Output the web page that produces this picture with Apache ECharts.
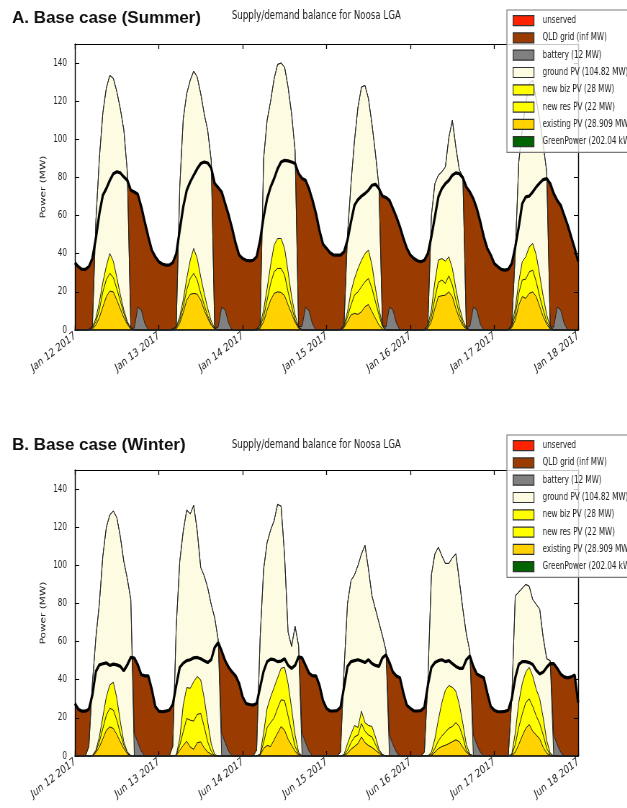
<!DOCTYPE html>
<html>
<head>
<meta charset="utf-8">
<script src="https://cdn.jsdelivr.net/npm/echarts@6/dist/echarts.min.js"></script>
<style>
  html, body { margin: 0; padding: 0; background: #fff; overflow: hidden; }
  /* the source figure is squeezed horizontally; draw wide and squeeze the same way */
  #chart { width: 871px; height: 808px; transform: scaleX(0.72); transform-origin: 0 0; }
</style>
</head>
<body>
<div id="chart"></div>
<script>
// hourly values, Jan 12 00:00 .. Jan 18 00:00 (summer) and Jun 12 .. Jun 18 (winter)
const summerTicks = ['Jan 12 2017', 'Jan 13 2017', 'Jan 14 2017', 'Jan 15 2017', 'Jan 16 2017', 'Jan 17 2017', 'Jan 18 2017'];
const winterTicks = ['Jun 12 2017', 'Jun 13 2017', 'Jun 14 2017', 'Jun 15 2017', 'Jun 16 2017', 'Jun 17 2017', 'Jun 18 2017'];

// ---- summer (MW)
const demandA = [
  35.3, 33.2, 31.8, 31.8, 33.2, 37.5, 48, 61, 70.7, 74.2, 78.5, 82, 83, 82.4, 80.3, 78.5, 73.3, 72.4, 71.2, 64.6, 56.7, 48.9, 41.9, 38.4,
  35.8, 34.6, 34, 34, 35.3, 40, 52.4, 64.6, 73.3, 77.7, 81.2, 84.6, 87.3, 88.1, 87.6, 85, 76.8, 74.7, 72.4, 66.3, 60.2, 53.2, 45.4, 39.3,
  37.5, 36.6, 36.3, 36.6, 38.4, 47.1, 59.3, 68.9, 75, 79.4, 84.6, 88.1, 89, 88.7, 88.1, 87.3, 82, 79.5, 78.5, 74, 68, 61, 52, 45,
  42.8, 40.5, 39.3, 39.3, 39.3, 41, 47.1, 56.7, 65.4, 68.4, 70.2, 71.6, 73.3, 75.9, 76.4, 74.2, 70.2, 69.5, 68, 63.7, 59.3, 54.1, 48, 42.8,
  39.3, 37.5, 36.3, 35.8, 36.6, 40.1, 48.9, 59.3, 69.8, 74.2, 76.8, 78.5, 81.2, 82.4, 82, 79.9, 75, 72.4, 68.9, 63.7, 56.7, 48.9, 42.8, 39.3,
  34.9, 33.2, 31.8, 31.4, 31.8, 34.9, 43.6, 54.1, 66.3, 69.8, 70.2, 72.4, 75, 77.1, 78.9, 79.4, 76.8, 71.6, 68, 65.4, 60.2, 55, 48.9, 42.8,
  36
];
const existingA = [
  0, 0, 0, 0, 0, 0.5, 2.6, 6.5, 12.2, 17.5, 20.4, 20, 15.7, 11, 6.5, 3, 0.5, 0, 0, 0, 0, 0, 0, 0,
  0, 0, 0, 0, 0, 0.5, 3.5, 9.2, 15.7, 18.7, 19.2, 18.8, 15.7, 10.5, 6.1, 2.6, 0.5, 0, 0, 0, 0, 0, 0, 0,
  0, 0, 0, 0, 0, 0.9, 4.4, 10.5, 15.7, 19.2, 20, 19.7, 18, 13.1, 8.7, 4, 0.9, 0, 0, 0, 0, 0, 0, 0,
  0, 0, 0, 0, 0, 1.2, 4.4, 7.9, 8.7, 8.2, 9.6, 12.2, 13.4, 9.6, 6.1, 2.6, 0.5, 0, 0, 0, 0, 0, 0, 0,
  0, 0, 0, 0, 0, 0.9, 4.4, 11.3, 17.5, 18, 18.3, 20, 17.5, 11.3, 6.1, 2.3, 0.5, 0, 0, 0, 0, 0, 0, 0,
  0, 0, 0, 0, 0, 1.2, 5.2, 13.1, 17.5, 16.6, 19.2, 20, 17.5, 12.2, 7, 3, 0.5, 0, 0, 0, 0, 0, 0, 0,
  0
];
const newResA = [
  0, 0, 0, 0, 0, 0.5, 1.8, 4, 7.8, 9, 9.3, 7.5, 5.8, 4.2, 2.2, 0.8, 0.2, 0, 0, 0, 0, 0, 0, 0,
  0, 0, 0, 0, 0, 0.7, 1.7, 3, 5.3, 8.3, 10.5, 7.4, 3.5, 2.6, 1.4, 0.4, 0, 0, 0, 0, 0, 0, 0, 0,
  0, 0, 0, 0, 0, 0.8, 2.6, 5.2, 8.7, 11.3, 12.3, 12.6, 10.8, 6.9, 3.5, 1.2, 0.3, 0, 0, 0, 0, 0, 0, 0,
  0, 0, 0, 0, 0, 0.5, 2.6, 5.2, 9.6, 11.8, 13.1, 13.1, 13.6, 12.2, 8.7, 5.3, 1.2, 0, 0, 0, 0, 0, 0, 0,
  0, 0, 0, 0, 0, 0.8, 2.6, 5.3, 7.5, 8.2, 6.1, 8.4, 6.1, 4.4, 2.6, 1.2, 0.4, 0, 0, 0, 0, 0, 0, 0,
  0, 0, 0, 0, 0, 0.5, 2.7, 6.1, 8.7, 10.1, 11.3, 11.4, 7.8, 5.3, 3.5, 1.4, 0.4, 0, 0, 0, 0, 0, 0, 0,
  0
];
const newBizA = [
  0, 0, 0, 0, 0.3, 0.7, 1.7, 4, 5, 7, 10.4, 8.5, 6, 3.3, 1.8, 0.7, 0.2, 0, 0, 0, 0, 0, 0, 0,
  0, 0, 0, 0, 0.5, 0.5, 1.8, 3.5, 6, 9.6, 13.1, 11.3, 8.7, 6.1, 3.8, 1.7, 0.4, 0, 0, 0, 0, 0, 0, 0,
  0, 0, 0, 0, 0.5, 0.9, 3.5, 6.1, 9.6, 14, 15.7, 15.7, 14, 10.5, 5.3, 2.7, 0.5, 0, 0, 0, 0, 0, 0, 0,
  0, 0, 0, 0, 0.3, 0.9, 2.6, 6.9, 8.7, 12.3, 13.9, 14.8, 14.9, 12.2, 7, 3.4, 0.9, 0, 0, 0, 0, 0, 0, 0,
  0, 0, 0, 0, 0.3, 0.9, 3.5, 8.7, 11.6, 11.3, 11.7, 10, 8.7, 6.1, 3.5, 1.7, 0.3, 0, 0, 0, 0, 0, 0, 0,
  0, 0, 0, 0, 0.3, 0.9, 3.4, 6.1, 9.6, 11.7, 13.1, 14, 14, 11.3, 7, 3.5, 0.8, 0, 0, 0, 0, 0, 0, 0,
  0
];
const groundA = [
  0, 0, 0, 0, 0, 0, 50.9, 75.5, 89, 93.5, 93.4, 96, 97.5, 97.5, 94.5, 78.5, 0, 0, 0, 0, 0, 0, 0, 0,
  0, 0, 0, 0, 0, 0, 68, 95, 97, 94.4, 93, 95.1, 96.1, 94.2, 93.4, 84.3, 0, 0, 0, 0, 0, 0, 0, 0,
  0, 0, 0, 0, 0, 0, 79.5, 88.2, 86, 87.3, 91.3, 92, 95.1, 96.9, 95.9, 86.3, 0, 0, 0, 0, 0, 0, 0, 0,
  0, 0, 0, 0, 0, 0, 40.4, 56.8, 72.5, 84.7, 90.8, 88.2, 79.4, 74, 70.7, 63.7, 0, 0, 0, 0, 0, 0, 0, 0,
  0, 0, 0, 0, 0, 0, 49.5, 51.5, 44.6, 45.5, 49.4, 62.6, 77.7, 74.2, 71.8, 75.3, 0, 0, 0, 0, 0, 0, 0, 0,
  0, 0, 0, 0, 0, 0, 28.7, 62.7, 69.2, 80.6, 85.4, 85.6, 81.7, 81.2, 79.5, 75.1, 0, 0, 0, 0, 0, 0, 0, 0,
  0
];
const batteryA = [
  0, 0, 0, 0, 0, 0, 0, 0, 0, 0, 0, 0, 0, 0, 0, 0, 0, 1, 12, 10.5, 3.5, 0, 0, 0,
  0, 0, 0, 0, 0, 0, 0, 0, 0, 0, 0, 0, 0, 0, 0, 0, 0, 1.5, 12, 10.5, 3.5, 0, 0, 0,
  0, 0, 0, 0, 0, 0, 0, 0, 0, 0, 0, 0, 0, 0, 0, 0, 0, 2, 12, 10, 3, 0, 0, 0,
  0, 0, 0, 0, 0, 0, 0, 0, 0, 0, 0, 0, 0, 0, 0, 0, 0, 1.5, 12, 10.5, 3.5, 0, 0, 0,
  0, 0, 0, 0, 0, 0, 0, 0, 0, 0, 0, 0, 0, 0, 0, 0, 0, 2, 12, 10.5, 3, 0, 0, 0,
  0, 0, 0, 0, 0, 0, 0, 0, 0, 0, 0, 0, 0, 0, 0, 0, 0, 1.5, 12, 10.5, 3.5, 0, 0, 0,
  0
];

// ---- winter (MW)
const demandB = [
  27.5, 24.5, 23.5, 23.5, 24.5, 32, 44.3, 47.8, 48.4, 48.8, 47.5, 48.2, 47.8, 47, 44.7, 47.8, 51.7, 51.4, 47.8, 42.6, 42, 42, 35, 26,
  23.5, 23.2, 23.5, 24, 27, 37, 46.5, 48.7, 50, 50.5, 51.5, 51.7, 51, 50, 49, 50.5, 57, 59.5, 55, 50, 46.5, 44, 42, 38,
  31, 27.5, 27, 26.7, 27.5, 36, 44.5, 49.5, 50.8, 50.5, 49.5, 49.8, 51, 47.5, 46, 47.5, 52, 51.5, 47.5, 43.5, 42, 42, 37, 29,
  25, 23.6, 23.6, 23.8, 25.5, 36, 47, 49.5, 50, 50.5, 49.8, 49, 50.5, 48.5, 47.5, 47, 51.5, 53, 49, 44, 42, 41, 33, 26.5,
  25, 23.6, 23.6, 23.8, 25.5, 37, 46.5, 49, 50, 50.5, 49.5, 50, 48.5, 47, 46, 46, 50.5, 52.5, 47, 43, 42, 41, 33, 26,
  24, 23.2, 23.2, 23.4, 24, 30, 41, 48, 49.5, 49.5, 49, 48, 45, 43, 44, 46.5, 48.5, 48.5, 46, 43, 41.5, 41, 41.5, 42.5,
  28
];
const existingB = [
  0, 0, 0, 0, 0, 0, 1.8, 4.7, 9.1, 13.5, 15.3, 14.4, 11.3, 7.4, 3.9, 1.2, 0, 0, 0, 0, 0, 0, 0, 0,
  0, 0, 0, 0, 0, 0.3, 3, 5.6, 7.7, 4.7, 3.5, 7, 7.4, 4.2, 2.1, 0.9, 0, 0, 0, 0, 0, 0, 0, 0,
  0, 0, 0, 0, 0, 0.5, 4, 5.5, 5, 8.5, 12, 15.5, 13.5, 8.8, 5.6, 2.5, 0.5, 0, 0, 0, 0, 0, 0, 0,
  0, 0, 0, 0, 0, 0, 1.5, 3.5, 5, 6.5, 10, 7, 5.5, 4.5, 3, 1.5, 0.3, 0, 0, 0, 0, 0, 0, 0,
  0, 0, 0, 0, 0, 0, 0.3, 2, 3.9, 5, 5.6, 6.5, 7.5, 8.5, 7.5, 4.5, 2, 0.5, 0, 0, 0, 0, 0, 0,
  0, 0, 0, 0, 0, 0.2, 2, 6, 10.5, 14.5, 16.5, 13, 11, 9, 4.5, 1.5, 0.2, 0, 0, 0, 0, 0, 0, 0,
  0
];
const newResB = [
  0, 0, 0, 0, 0, 0, 0.7, 2.7, 5.3, 8, 9.7, 9.7, 7.5, 4.4, 1.7, 0.6, 0, 0, 0, 0, 0, 0, 0, 0,
  0, 0, 0, 0, 0, 0, 2.6, 7.1, 12, 14.1, 14.8, 14.8, 14.9, 11.1, 5.3, 1.6, 0, 0, 0, 0, 0, 0, 0, 0,
  0, 0, 0, 0, 0, 0.3, 3, 9.5, 12.5, 11.5, 13, 14, 15.5, 12.2, 7.4, 2.5, 0.5, 0, 0, 0, 0, 0, 0, 0,
  0, 0, 0, 0, 0, 0.3, 1.5, 3.5, 5, 4.5, 7, 6, 5.5, 5.5, 3, 1, 0.2, 0, 0, 0, 0, 0, 0, 0,
  0, 0, 0, 0, 0, 0, 0.5, 2, 4.1, 5.5, 6.9, 8, 8, 9, 8, 5.5, 1, 0.3, 0, 0, 0, 0, 0, 0,
  0, 0, 0, 0, 0, 0.3, 4, 9, 11.5, 13.5, 13.5, 13, 10, 8, 6.5, 2.5, 0.3, 0, 0, 0, 0, 0, 0, 0,
  0
];
const newBizB = [
  0, 0, 0, 0, 0, 0.3, 0.5, 2.6, 6.2, 9.6, 12.3, 14.6, 11.5, 6.1, 1.8, 0.3, 0.3, 0, 0, 0, 0, 0, 0, 0,
  0, 0, 0, 0, 0, 0.2, 3.5, 14, 16.2, 16.7, 20.7, 19.9, 17.6, 15, 10.5, 4, 0.7, 0, 0, 0, 0, 0, 0, 0,
  0, 0, 0, 0, 0, 0.2, 5, 10, 13.5, 16, 16, 16.5, 17.5, 17, 12, 6, 1, 0, 0, 0, 0, 0, 0, 0,
  0, 0, 0, 0, 0, 0.5, 3.5, 4.5, 6, 4, 6.5, 4.5, 5, 5.5, 4, 1, 0.3, 0, 0, 0, 0, 0, 0, 0,
  0, 0, 0, 0, 0, 0, 1.2, 5, 11, 17.5, 22, 22.5, 20.5, 16.5, 11.5, 7, 3, 0.2, 0, 0, 0, 0, 0, 0,
  0, 0, 0, 0, 0, 0.5, 6, 13, 16, 16, 16.5, 16, 14, 13, 9, 4, 1, 0, 0, 0, 0, 0, 0, 0,
  0
];
const groundB = [
  0, 0, 0, 0, 5, 37.7, 59, 70, 84.4, 88.9, 89.2, 89.8, 94.7, 97.1, 94.6, 90.9, 81.7, 0, 0, 0, 0, 0, 0, 0,
  0, 0, 0, 0, 5, 67.5, 92.9, 91.3, 93.1, 91.5, 92.5, 76.3, 59, 64.2, 70.4, 73, 71.8, 61, 0, 0, 0, 0, 0, 0,
  0, 0, 0, 0, 3, 61, 86, 87, 87.5, 87.5, 91, 85, 58.5, 27, 32.5, 57, 56, 0, 0, 0, 0, 0, 0, 0,
  0, 0, 0, 0, 2, 44.2, 73.5, 80.5, 79, 85, 82.5, 93, 82, 68.5, 67, 66.5, 62.2, 55.5, 0, 0, 0, 0, 0, 0,
  0, 0, 0, 0, 2, 40, 93, 97, 90.5, 77, 66.5, 64, 68, 72, 65, 60, 58, 54, 0, 0, 0, 0, 0, 0,
  0, 0, 0, 0, 0, 29, 72, 58, 50, 46, 42.5, 40, 44.5, 47, 42, 43, 48.5, 0, 0, 0, 0, 0, 0, 0,
  0
];
const batteryB = [
  0, 0, 0, 0, 0, 0, 0, 0, 0, 0, 0, 0, 0, 0, 0, 0, 0, 12, 7, 2.5, 0, 0, 0, 0,
  0, 0, 0, 0, 0, 0, 0, 0, 0, 0, 0, 0, 0, 0, 0, 0, 0, 0, 12, 7, 2.5, 0, 0, 0,
  0, 0, 0, 0, 0, 0, 0, 0, 0, 0, 0, 0, 0, 0, 0, 0, 0, 12, 7, 2.5, 0, 0, 0, 0,
  0, 0, 0, 0, 0, 0, 0, 0, 0, 0, 0, 0, 0, 0, 0, 0, 0, 0, 11, 6, 2, 0, 0, 0,
  0, 0, 0, 0, 0, 0, 0, 0, 0, 0, 0, 0, 0, 0, 0, 0, 0, 0, 11, 6, 2, 0, 0, 0,
  0, 0, 0, 0, 0, 0, 0, 0, 0, 0, 0, 0, 0, 0, 0, 0, 0, 11, 6, 2, 0, 0, 0, 0,
  0
];

const legendNames = ['unserved', 'QLD grid (inf MW)', 'battery (12 MW)', 'ground PV (104.82 MW)',
  'new biz PV (28 MW)', 'new res PV (22 MW)', 'existing PV (28.909 MW)', 'GreenPower (202.04 kW)'];

const C = {
  unserved: '#ff2200', grid: '#9a3c02', battery: '#808080', ground: '#fdfce3',
  biz: '#ffff00', res: '#ffff00', existing: '#ffd200', green: '#006400'
};
const legendColors = [C.unserved, C.grid, C.battery, C.ground, C.biz, C.res, C.existing, C.green];

const SQ = 0.72; // horizontal squeeze applied to the whole div
const sans = '"Liberation Sans", Arial, sans-serif';
const mpl = '"DejaVu Sans", "Liberation Sans", sans-serif';

// hour index 0..144 along the time axis
const hours = demandA.map((v, i) => String(i));

function panelSeries(p, demand, existing, newRes, newBiz, ground, battery) {
  const ax = { xAxisIndex: p * 2, yAxisIndex: p * 2 };
  const layer = (name, arr, color) => ({
    name, type: 'line', ...ax, stack: 'supply' + p, stackStrategy: 'all', data: arr,
    symbol: 'none', animation: false, silent: true,
    lineStyle: { color: '#222', width: 1 },
    areaStyle: { color: color, opacity: 1 }
  });
  return [
    {
      name: 'QLD grid (inf MW)', type: 'line', ...ax, data: demand,
      symbol: 'none', animation: false, silent: true,
      lineStyle: { width: 0, opacity: 0 },
      areaStyle: { color: C.grid, opacity: 1 }
    },
    layer('existing PV (28.909 MW)', existing, C.existing),
    layer('new res PV (22 MW)', newRes, C.res),
    layer('new biz PV (28 MW)', newBiz, C.biz),
    layer('ground PV (104.82 MW)', ground, C.ground),
    layer('battery (12 MW)', battery, C.battery),
    { name: 'unserved', type: 'line', ...ax, data: [] },
    { name: 'GreenPower (202.04 kW)', type: 'line', ...ax, data: [] },
    {
      name: 'demand', type: 'line', ...ax, data: demand,
      symbol: 'none', animation: false, silent: true,
      lineStyle: { color: '#000', width: 3.2 }
    }
  ];
}

const everyDay = i => i % 24 === 0;
const xAxes = [];
const yAxes = [];
[summerTicks, winterTicks].forEach((ticks, p) => {
  const xBase = {
    gridIndex: p, type: 'category', data: hours, boundaryGap: false, z: 3,
    axisLine: { onZero: false, lineStyle: { color: '#000', width: 1 } },
    axisTick: { show: true, inside: true, length: 5, interval: everyDay, lineStyle: { color: '#000', width: 1.3 } },
    splitLine: { show: false }
  };
  xAxes.push(Object.assign({}, xBase, {
    position: 'bottom',
    axisLine: { onZero: false, lineStyle: { color: '#000', width: 1.6 } },
    axisLabel: {
      interval: everyDay, rotate: 30, margin: 5, fontSize: 11.5, color: '#222', fontFamily: mpl,
      formatter: (v, i) => ticks[Math.round(Number(v) / 24)] || ''
    }
  }));
  xAxes.push(Object.assign({}, xBase, { position: 'top', axisLabel: { show: false } }));

  const yBase = {
    gridIndex: p, type: 'value', min: 0, max: 150, interval: 20, z: 3,
    axisLine: { show: true, onZero: false, lineStyle: { color: '#000', width: 1.4 } },
    axisTick: { show: true, inside: true, length: 6, lineStyle: { color: '#000' } },
    splitLine: { show: false }
  };
  yAxes.push(Object.assign({}, yBase, {
    position: 'left',
    name: 'Power (MW)', nameLocation: 'middle', nameGap: 38, nameMoveOverlap: false,
    nameTextStyle: { fontSize: 10.5, color: '#222', fontFamily: mpl },
    axisLabel: {
      margin: 11, fontSize: 10, color: '#222', fontFamily: mpl,
      formatter: v => (v <= 140 && v % 20 === 0 ? String(v) : '')
    }
  }));
  yAxes.push(Object.assign({}, yBase, { position: 'right', axisLabel: { show: false } }));
});

const legends = [0, 1].map(p => ({
  orient: 'vertical', left: 704, top: 10 + 425 * p,
  padding: [5, 8, 5, 8], itemWidth: 29, itemHeight: 10, itemGap: 6.1,
  icon: 'rect', selectedMode: false,
  backgroundColor: 'rgba(255,255,255,0.78)', borderColor: '#7a7a7a', borderWidth: 1.2, borderRadius: 0,
  textStyle: { fontSize: 10, color: '#222', fontFamily: mpl, padding: [0, 0, 0, 7] },
  itemStyle: { borderColor: '#333', borderWidth: 1 },
  data: legendNames.map((n, i) => ({ name: n, itemStyle: { color: legendColors[i], borderColor: '#333', borderWidth: 1.2 } }))
}));

// panel letters are not part of the squeezed figure: undo the squeeze on them
const panelTitle = (text, y) => ({
  type: 'text', x: 12 / SQ, y: y, scaleX: 1 / SQ, z: 10,
  style: {
    text: text, fontSize: 17, fontWeight: 'bold', fontFamily: sans, fill: '#111',
    verticalAlign: 'top', textVerticalAlign: 'top'
  }
});

const chart = echarts.init(document.getElementById('chart'), null, { renderer: 'canvas' });
chart.setOption({
  animation: false,
  backgroundColor: '#fff',
  title: [
    { text: 'Supply/demand balance for Noosa LGA', left: 322, top: 10, padding: 0,
      textStyle: { fontFamily: mpl, fontSize: 12, fontWeight: 'normal', color: '#222' } },
    { text: 'Supply/demand balance for Noosa LGA', left: 322, top: 439, padding: 0,
      textStyle: { fontFamily: mpl, fontSize: 12, fontWeight: 'normal', color: '#222' } }
  ],
  graphic: [
    panelTitle('A. Base case (Summer)', 10),
    panelTitle('B. Base case (Winter)', 437)
  ],
  legend: legends,
  grid: [
    { left: 104, top: 44, width: 699, height: 286, containLabel: false, outerBoundsMode: 'none' },
    { left: 104, top: 470, width: 699, height: 286, containLabel: false, outerBoundsMode: 'none' }
  ],
  xAxis: xAxes,
  yAxis: yAxes,
  series: [].concat(
    panelSeries(0, demandA, existingA, newResA, newBizA, groundA, batteryA),
    panelSeries(1, demandB, existingB, newResB, newBizB, groundB, batteryB)
  )
});
</script>
</body>
</html>
